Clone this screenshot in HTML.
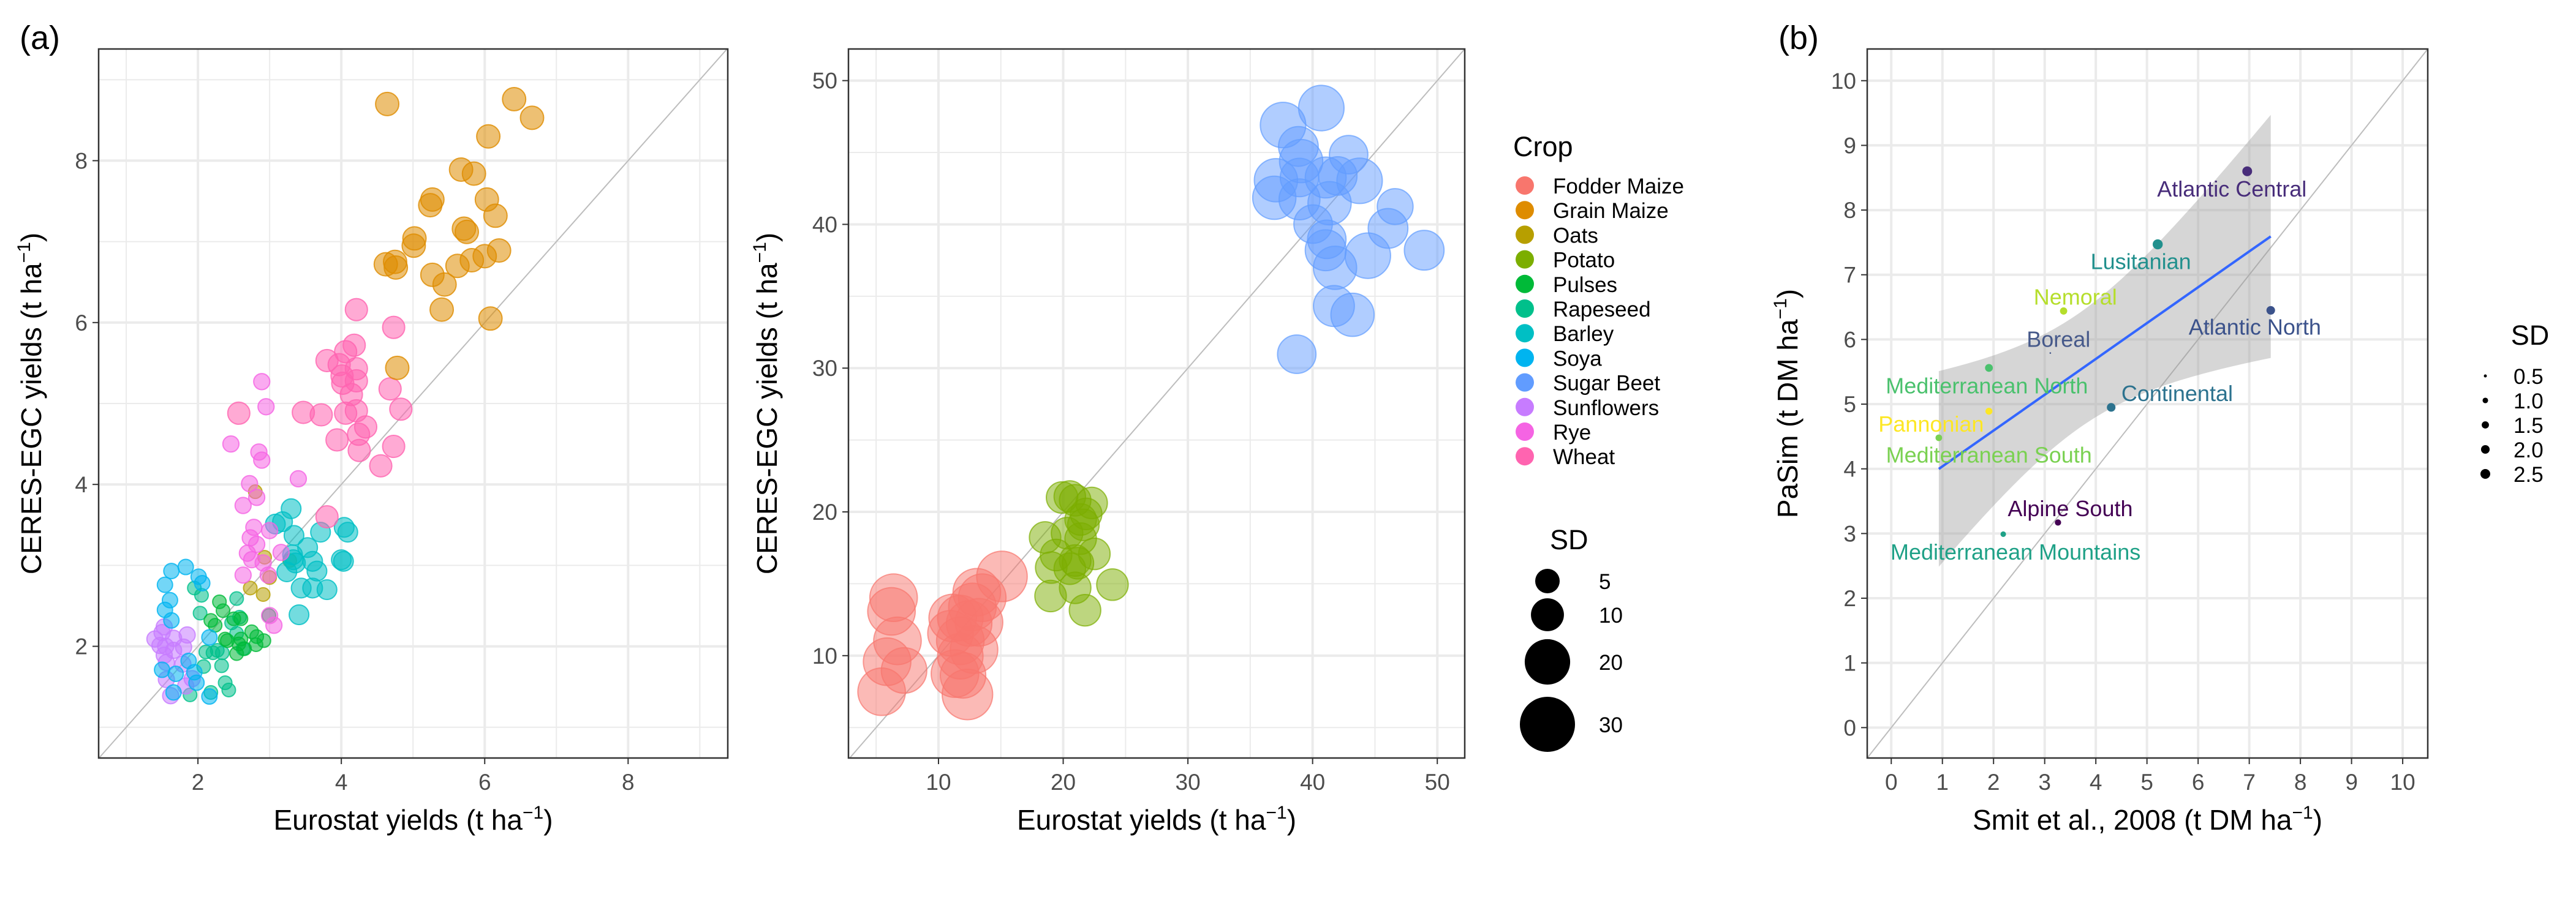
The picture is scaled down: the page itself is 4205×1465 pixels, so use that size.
<!DOCTYPE html>
<html><head><meta charset="utf-8">
<style>
html,body{margin:0;padding:0;background:#fff;}
svg{display:block;font-family:"Liberation Sans",Arial,sans-serif;}
</style></head>
<body>
<svg id="chart" width="4205" height="1465" viewBox="0 0 4205 1465" xmlns="http://www.w3.org/2000/svg">
<text x="32" y="80" font-size="54" fill="#000">(a)</text>
<text x="2903" y="80" font-size="54" fill="#000">(b)</text>
<g id="p1"></g>
<g id="p2"></g>
<g id="p3"></g>
<g id="leg"></g>
</svg>
<script>
const cropNames = ["Fodder Maize","Grain Maize","Oats","Potato","Pulses","Rapeseed","Barley","Soya","Sugar Beet","Sunflowers","Rye","Wheat"];
const cropColors = ["#F8766D","#DE8C00","#B79F00","#7CAE00","#00BA38","#00C08B","#00BFC4","#00B4F0","#619CFF","#C77CFF","#F564E3","#FF64B0"];
// Panel (a) left: [eurostat, ceres] per crop
const grainMaizeX = [4.64,6.41,6.66,6.05,5.67,5.85,5.27,5.24,6.03,6.15,5.71,5.75,5.02,5.01,4.62,4.75,4.76,5.62,5.82,6.00,6.20,5.27,5.44,5.40,6.08,4.78];
const grainMaizeY = [8.70,8.76,8.53,8.30,7.89,7.84,7.52,7.45,7.52,7.32,7.16,7.12,7.04,6.95,6.72,6.75,6.68,6.70,6.77,6.82,6.89,6.59,6.47,6.16,6.05,5.44];
const wheatX = [4.21,4.73,4.18,4.06,3.80,3.97,4.21,4.01,4.21,4.02,4.14,4.68,3.47,3.72,4.06,4.21,4.83,4.34,3.94,4.24,4.25,4.55,4.73,3.80,2.57];
const wheatY = [6.16,5.94,5.72,5.64,5.53,5.48,5.43,5.34,5.28,5.25,5.11,5.18,4.89,4.86,4.88,4.91,4.93,4.71,4.55,4.62,4.42,4.23,4.47,3.60,4.88];
const ryeX = [2.89,2.95,2.46,2.85,2.89,3.40,2.72,2.82,2.63,2.78,2.73,2.82,2.69,2.75,2.91,3.00,3.16,2.63,2.98,3.06,3.00];
const ryeY = [5.27,4.96,4.50,4.40,4.30,4.07,4.01,3.84,3.74,3.47,3.34,3.26,3.15,3.07,3.03,3.43,3.16,2.88,2.88,2.26,2.38];
const oatsX = [2.80,2.73,2.91,3.00,3.28,2.93];
const oatsY = [3.91,2.72,2.64,2.85,3.06,3.10];
const barleyX = [3.30,3.18,3.08,3.34,3.53,3.71,4.04,4.09,3.32,3.36,3.60,3.66,3.24,4.00,4.03,3.44,3.60,3.80,3.41,3.33];
const barleyY = [3.70,3.54,3.51,3.37,3.22,3.41,3.47,3.41,3.13,3.03,3.05,2.93,2.92,3.07,3.05,2.72,2.72,2.70,2.39,3.07];
const soyaX = [1.63,1.54,1.61,1.54,1.63,1.83,2.01,2.06,2.16,1.87,1.69,1.66,1.98,1.50,1.95,2.16];
const soyaY = [2.93,2.76,2.57,2.45,2.32,2.98,2.86,2.78,2.11,1.82,1.66,1.43,1.55,1.71,1.68,1.38];
const sunflowerX = [1.40,1.50,1.53,1.66,1.85,1.55,1.66,1.53,1.56,1.80,1.56,1.62,1.83,1.92,1.79,1.47];
const sunflowerY = [2.09,2.17,2.24,2.10,2.14,2.00,1.95,1.89,1.80,1.99,1.59,1.39,1.51,1.60,1.78,2.01];
const pulsesX = [2.30,2.35,2.18,2.24,2.50,2.60,2.38,2.41,2.75,2.82,2.92,2.57,2.81,2.65,2.54,2.99,2.60];
const pulsesY = [2.55,2.44,2.32,2.26,2.34,2.34,2.09,2.07,2.18,2.12,2.07,2.03,2.02,1.97,1.91,2.38,2.09];
const rapeseedX = [1.95,2.05,2.03,2.54,2.47,2.54,2.58,2.11,2.21,2.27,2.34,2.08,2.33,2.38,2.43,2.18,1.89,2.63];
const rapeseedY = [2.72,2.63,2.41,2.59,2.29,2.16,2.36,1.93,1.92,1.95,1.92,1.75,1.76,1.55,1.46,1.43,1.40,1.97];
// SD per crop for panel (a) left
const smallCropSD = {"Grain Maize":1.0,"Wheat":0.9,"Rye":0.45,"Oats":0.3,"Barley":0.7,"Soya":0.4,"Sunflowers":0.45,"Pulses":0.3,"Rapeseed":0.3};
// Panel (a) right
const fodderX = [6.40,6.23,6.71,5.88,7.24,5.44,15.09,13.07,13.51,11.14,11.75,12.46,13.25,10.96,11.75,12.85,11.32,12.32,11.97,12.72,11.75];
const fodderY = [14.03,13.08,11.03,9.58,8.97,7.49,15.51,14.41,14.03,12.62,12.62,12.24,12.32,11.56,11.03,10.42,8.75,7.30,8.63,13.39,9.96];
const fodderSD = [22,22,22,22,20,22,25,22,22,22,20,20,22,20,22,22,22,25,20,22,20];
const potatoX = [19.91,20.53,20.96,22.28,21.84,21.62,18.55,20.31,21.40,22.50,19.43,20.96,19.04,20.53,21.18,20.96,18.99,23.95,21.75,21.40];
const potatoY = [21.0,21.07,20.81,20.62,19.86,19.10,18.22,18.52,18.14,17.08,17.00,16.62,16.13,16.05,16.43,14.72,14.15,14.94,13.16,19.47];
const potatoSD = [9,9,9,9,9,9,9,9,9,9,9,9,9,9,9,9,9,9,9,9];
const beetX = [40.70,37.63,38.86,39.08,42.89,37.06,38.95,41.05,42.02,43.77,36.93,38.95,41.36,46.62,40.04,46.05,41.14,41.05,48.95,44.43,41.80,41.71,43.20,38.73];
const beetY = [48.09,46.91,45.42,44.40,44.85,43.07,43.26,43.26,43.37,43.03,41.85,41.74,41.47,41.24,40.02,39.72,38.96,38.20,38.20,37.82,36.98,34.32,33.71,30.97];
const beetSD = [20,20,15,18,14,18,14,16,14,20,18,16,18,12,14,15,14,16,15,20,18,16,18,14];
// Panel (b)
const regionNames = ["Atlantic Central","Lusitanian","Nemoral","Atlantic North","Boreal","Mediterranean North","Continental","Pannonian","Mediterranean South","Alpine South","Mediterranean Mountains"];
const smitX = [6.96,5.21,3.37,7.42,3.11,1.91,4.30,1.91,0.93,3.26,2.19];
const pasimY = [8.60,7.47,6.44,6.45,5.79,5.56,4.95,4.89,4.48,3.17,2.99];
const regionSD = [2.5,2.6,1.5,2.0,0.35,1.7,2.0,1.4,1.3,1.2,1.0];
const labelX = [6.66,4.88,3.60,7.11,3.27,1.87,5.59,0.78,1.91,3.50,2.43];
const labelY = [8.33,7.21,6.66,6.20,6.01,5.29,5.17,4.70,4.22,3.39,2.72];
const regionColors = ["#482D7A","#21908D","#B5DE2B","#3B528B","#46598A","#4AC16D","#2C728E","#FDE725","#7AD151","#440154","#1FA187"];
const sdLegendA = [5,10,20,30];
const sdLegendB = [0.5,1.0,1.5,2.0,2.5];

const NS="http://www.w3.org/2000/svg";
function mk(parent,tag,attrs,name,inter){const e=document.createElementNS(NS,tag);for(const k in attrs)e.setAttribute(k,attrs[k]);


parent.appendChild(e);return e;}
function txt(parent,x,y,s,size,anchor,name,extra){const t=mk(parent,'text',Object.assign({x:x,y:y,'font-size':size,'text-anchor':anchor||'start',fill:'#000'},extra||{}),name,false);t.textContent=s;return t;}

function panel(g,box,dom,major,minor,tickLbls){
  const sx=v=>box.x0+(v-dom.x0)/(dom.x1-dom.x0)*(box.x1-box.x0);
  const sy=v=>box.y1-(v-dom.y0)/(dom.y1-dom.y0)*(box.y1-box.y0);
  minor.forEach(v=>{mk(g,'line',{x1:sx(v),x2:sx(v),y1:box.y0,y2:box.y1,stroke:'#ebebeb','stroke-width':2},'minor-gridline-x',false);
    mk(g,'line',{y1:sy(v),y2:sy(v),x1:box.x0,x2:box.x1,stroke:'#ebebeb','stroke-width':2},'minor-gridline-y',false);});
  major.forEach(v=>{mk(g,'line',{x1:sx(v),x2:sx(v),y1:box.y0,y2:box.y1,stroke:'#ebebeb','stroke-width':4},'major-gridline-x',false);
    mk(g,'line',{y1:sy(v),y2:sy(v),x1:box.x0,x2:box.x1,stroke:'#ebebeb','stroke-width':4},'major-gridline-y',false);});
  major.forEach((v,i)=>{
    mk(g,'line',{x1:sx(v),x2:sx(v),y1:box.y1,y2:box.y1+10,stroke:'#333','stroke-width':2},'x-tick',false);
    txt(g,sx(v),box.y1+52,tickLbls[i],37,'middle','x-tick-label',{fill:'#4d4d4d'});
    mk(g,'line',{x1:box.x0-10,x2:box.x0,y1:sy(v),y2:sy(v),stroke:'#333','stroke-width':2},'y-tick',false);
    txt(g,box.x0-18,sy(v)+13,tickLbls[i],37,'end','y-tick-label',{fill:'#4d4d4d'});
  });
  const lo=Math.max(dom.x0,dom.y0),hi=Math.min(dom.x1,dom.y1);
  mk(g,'line',{x1:sx(lo),y1:sy(lo),x2:sx(hi),y2:sy(hi),stroke:'#bdbdbd','stroke-width':2},'one-to-one-line',false);
  return {sx,sy};
}
function frame(g,box){mk(g,'rect',{x:box.x0,y:box.y0,width:box.x1-box.x0,height:box.y1-box.y0,fill:'none',stroke:'#333','stroke-width':2.5},'panel-border',false);}
function titles(g,box,xt,yt,ytx){
  const xtl=txt(g,(box.x0+box.x1)/2,1355,'',46,'middle','x-axis-title');
  xtl.innerHTML=xt;
  const cy=(box.y0+box.y1)/2;
  const ytl=txt(g,ytx,cy,'',46,'middle','y-axis-title',{transform:`rotate(-90 ${ytx} ${cy})`});
  ytl.innerHTML=yt;
}
const sup='<tspan font-size="30" dy="-18">−1</tspan><tspan dy="18">)</tspan>';

// Panel 1
const g1=document.getElementById('p1');
const b1={x0:161,x1:1188,y0:80,y1:1238};
const a1=panel(g1,b1,{x0:0.615,x1:9.39,y0:0.62,y1:9.38},[2,4,6,8],[1,3,5,7,9],['2','4','6','8']);
const smallSeries=[["Rapeseed",rapeseedX,rapeseedY],["Pulses",pulsesX,pulsesY],["Sunflowers",sunflowerX,sunflowerY],["Soya",soyaX,soyaY],["Oats",oatsX,oatsY],["Barley",barleyX,barleyY],["Rye",ryeX,ryeY],["Wheat",wheatX,wheatY],["Grain Maize",grainMaizeX,grainMaizeY]];
smallSeries.forEach(([n,xs,ys])=>{const c=cropColors[cropNames.indexOf(n)];const r=Math.sqrt(20+340*smallCropSD[n]);
  xs.forEach((v,i)=>{mk(g1,'circle',{cx:a1.sx(v),cy:a1.sy(ys[i]),r:r,fill:c,'fill-opacity':0.55,stroke:c,'stroke-opacity':0.8,'stroke-width':2},'point-'+n.toLowerCase().replace(' ','-'),false);});});
frame(g1,b1);
titles(g1,b1,'Eurostat yields (t ha'+sup,'CERES-EGC yields (t ha'+sup,67);

// Panel 2
const g2=document.getElementById('p2');
const b2={x0:1385,x1:2391,y0:80,y1:1238};
const a2=panel(g2,b2,{x0:2.78,x1:52.2,y0:2.88,y1:52.2},[10,20,30,40,50],[5,15,25,35,45],['10','20','30','40','50']);
const rA=sd=>Math.sqrt(75+65*sd);
[["Fodder Maize",fodderX,fodderY,fodderSD],["Potato",potatoX,potatoY,potatoSD],["Sugar Beet",beetX,beetY,beetSD]].forEach(([n,xs,ys,sds])=>{
  const c=cropColors[cropNames.indexOf(n)];
  xs.forEach((v,i)=>{mk(g2,'circle',{cx:a2.sx(v),cy:a2.sy(ys[i]),r:rA(sds[i]),fill:c,'fill-opacity':0.5,stroke:c,'stroke-opacity':0.7,'stroke-width':2},'point-'+n.toLowerCase().replace(' ','-'),false);});});
frame(g2,b2);
titles(g2,b2,'Eurostat yields (t ha'+sup,'CERES-EGC yields (t ha'+sup,1268);

// Legends (a)
const gl=document.getElementById('leg');
txt(gl,2470,255,'Crop',45,'start','crop-legend-title');
cropNames.forEach((n,i)=>{const y=303+i*40.2;
  mk(gl,'circle',{cx:2489,cy:y,r:15,fill:cropColors[i]},'crop-legend-key',true);
  txt(gl,2535,y+13,n,35,'start','crop-legend-label');});
txt(gl,2530,897,'SD',45,'start','sd-legend-title');
const sdY=[949,1004,1081,1183];
sdLegendA.forEach((v,i)=>{mk(gl,'circle',{cx:2526,cy:sdY[i],r:rA(v),fill:'#000'},'sd-legend-key',false);
  txt(gl,2610,sdY[i]+13,String(v),35,'start','sd-legend-label');});

// Panel 3
const g3=document.getElementById('p3');
const b3={x0:3048,x1:3963,y0:80,y1:1238};
const t3=['0','1','2','3','4','5','6','7','8','9','10'];
const a3=panel(g3,b3,{x0:-0.47,x1:10.49,y0:-0.47,y1:10.49},[0,1,2,3,4,5,6,7,8,9,10],[],t3);
// linear regression & 95% CI
const n=smitX.length, mx=smitX.reduce((a,b)=>a+b)/n, my=pasimY.reduce((a,b)=>a+b)/n;
let sxx=0,sxy=0;smitX.forEach((x,i)=>{sxx+=(x-mx)**2;sxy+=(x-mx)*(pasimY[i]-my);});
const slope=sxy/sxx, icpt=my-slope*mx;
let sse=0;smitX.forEach((x,i)=>{sse+=(pasimY[i]-icpt-slope*x)**2;});
const s=Math.sqrt(sse/(n-2)), tq=2.262;
const xmin=Math.min(...smitX), xmax=Math.max(...smitX);
let up=[],dn=[];
for(let k=0;k<=80;k++){const x=xmin+(xmax-xmin)*k/80;const f=icpt+slope*x;const se=tq*s*Math.sqrt(1/n+(x-mx)**2/sxx);
  up.push(a3.sx(x)+','+a3.sy(f+se));dn.unshift(a3.sx(x)+','+a3.sy(f-se));}
mk(g3,'polygon',{points:up.concat(dn).join(' '),fill:'#999','fill-opacity':0.4},'confidence-band',false);
mk(g3,'line',{x1:a3.sx(xmin),y1:a3.sy(icpt+slope*xmin),x2:a3.sx(xmax),y2:a3.sy(icpt+slope*xmax),stroke:'#3366FF','stroke-width':4},'regression-line',false);
const rB=sd=>Math.sqrt(Math.max(1.5,-8.5+29*sd));
smitX.forEach((x,i)=>{mk(g3,'circle',{cx:a3.sx(x),cy:a3.sy(pasimY[i]),r:rB(regionSD[i]),fill:regionColors[i]},'region-point',false);
  txt(g3,a3.sx(labelX[i]),a3.sy(labelY[i])+13,regionNames[i],36,'middle','region-label',{fill:regionColors[i]});});
frame(g3,b3);
titles(g3,b3,'Smit et al., 2008 (t DM ha'+sup,'PaSim (t DM ha'+sup,2934);
txt(gl,4130,563,'SD',45,'middle','sd-legend-b-title');
sdLegendB.forEach((v,i)=>{const y=614+i*40;mk(gl,'circle',{cx:4057,cy:y,r:rB(v),fill:'#000'},'sd-legend-b-key',false);
  txt(gl,4103,y+13,v.toFixed(1),35,'start','sd-legend-b-label');});
</script>
</body></html>
